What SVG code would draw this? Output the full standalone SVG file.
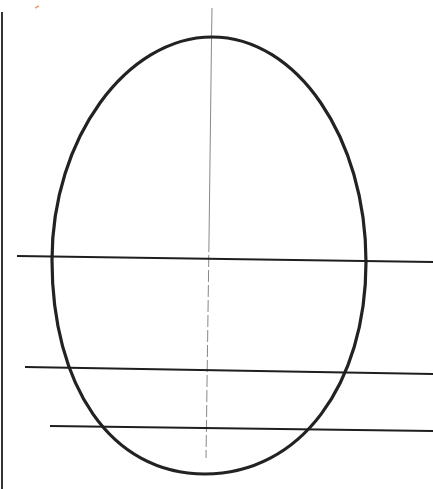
<svg xmlns="http://www.w3.org/2000/svg" width="433" height="489" viewBox="0 0 433 489">
<style>
.line{stroke:#1e1e1e;stroke-width:1.8;fill:none}
.egg{stroke:#222;stroke-width:3.2;fill:none}
.axis{stroke:#888;stroke-width:1;fill:none}
</style>
<rect width="433" height="489" fill="#fff"/>
<line x1="2" y1="12" x2="2" y2="489" stroke="#333" stroke-width="2"/>
<path d="M35,8 l4,-2" stroke="#e8a080" stroke-width="1.5"/>
<line class="axis" x1="212" y1="8" x2="211.5" y2="40" stroke="#333"/>
<line class="axis" x1="211.5" y1="40" x2="209" y2="240" stroke="#666"/>
<line class="axis" x1="209" y1="240" x2="206" y2="458" stroke-dasharray="12 3"/>
<path class="egg" d="M212,37 C297,37 366,138 366,262 C366,385 300,474 205,474 C110,474 52,385 52,260 C52,138 127,37 212,37 Z"/>
<line class="line" x1="17" y1="256" x2="433" y2="262"/>
<line class="line" x1="25" y1="367" x2="433" y2="374"/>
<line class="line" x1="50" y1="426" x2="433" y2="431"/>
</svg>
